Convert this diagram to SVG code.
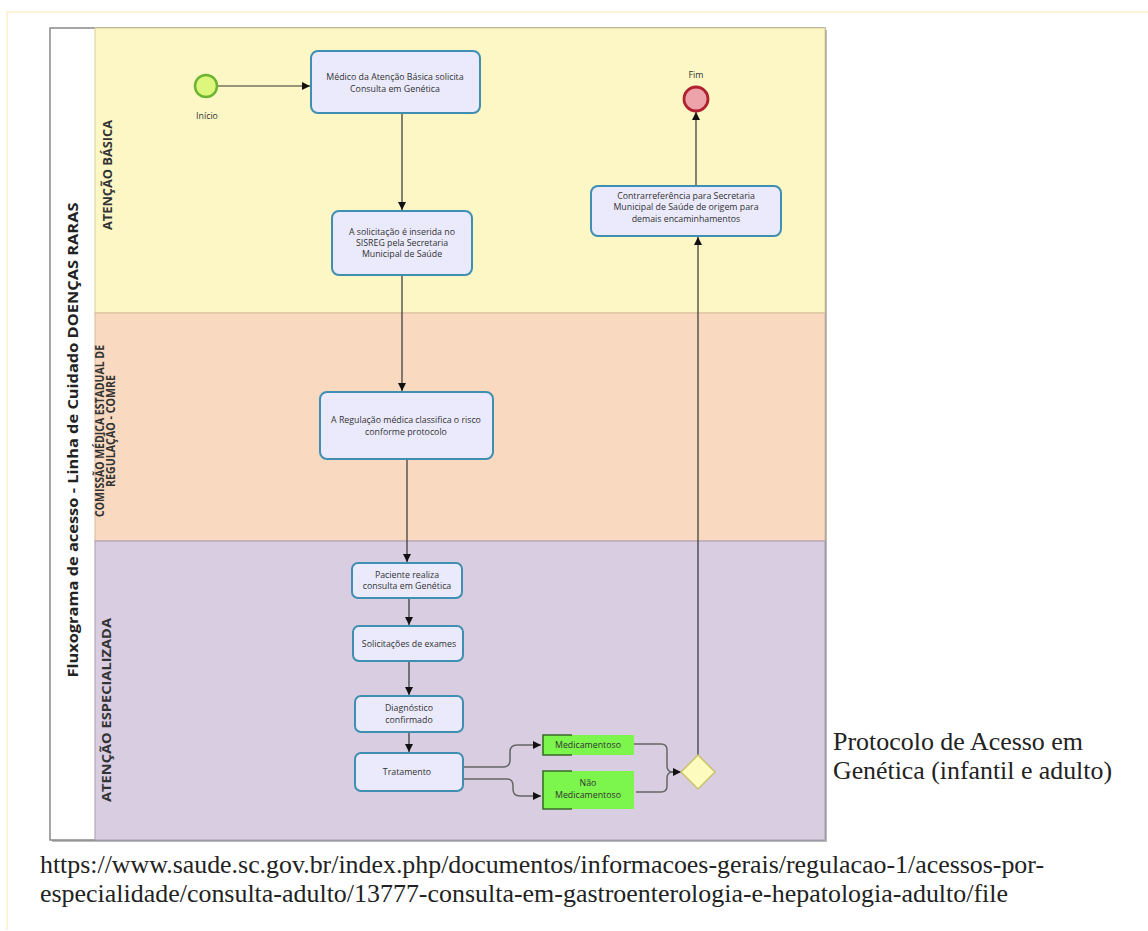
<svg xmlns="http://www.w3.org/2000/svg" width="1148" height="931" viewBox="0 0 1148 931">
<style>
.t{font-family:"Open Sans","Noto Sans","DejaVu Sans",sans-serif;fill:#333;font-size:8.8px;text-anchor:middle}
.lane{font-family:"Open Sans","Noto Sans","DejaVu Sans",sans-serif;font-weight:bold;fill:#333;font-size:11.5px;text-anchor:middle}
.task{fill:#eaeafc;stroke:#3f8fb3;stroke-width:2}
.c{fill:none;stroke:#333;stroke-width:1.2}
.g{fill:none;stroke:#666;stroke-width:1.5}
.serif{font-family:"Liberation Serif","Times New Roman",Times,serif;fill:#222;font-size:25px}
</style>
<defs>
<marker id="ah" viewBox="0 0 10 10" refX="10" refY="5" markerWidth="8" markerHeight="8" markerUnits="userSpaceOnUse" orient="auto">
<path d="M0,0 L10,5 L0,10 z" fill="#111"/>
</marker>
</defs>
<rect x="0" y="0" width="1148" height="931" fill="#fff"/>
<path d="M7,930 L7,12 L1148,12" fill="none" stroke="#fdf0cc" stroke-width="1.5"/>
<g id="pool">
<rect x="52" y="30" width="775" height="812" fill="#bbb"/>
<rect x="50" y="28" width="775" height="812" fill="#fff" stroke="#888" stroke-width="1.5"/>
<rect x="95" y="28" width="730" height="285" fill="#fdf7c6" stroke="#d8d098" stroke-width="1"/>
<rect x="95" y="313" width="730" height="228" fill="#f9dac0" stroke="#d8b89c" stroke-width="1"/>
<rect x="95" y="541" width="730" height="299" fill="#d8cde1" stroke="#a89cb4" stroke-width="1"/>
<text transform="translate(78,440) rotate(-90)" font-family="Open Sans,Noto Sans,DejaVu Sans,sans-serif" font-weight="bold" font-size="15" fill="#222" text-anchor="middle" textLength="475" lengthAdjust="spacingAndGlyphs">Fluxograma de acesso - Linha de Cuidado DOENÇAS RARAS</text>
<text class="lane" transform="translate(112,175) rotate(-90)" textLength="110" lengthAdjust="spacingAndGlyphs">ATENÇÃO BÁSICA</text>
<text class="lane" font-size="8.5" transform="translate(104,431) rotate(-90)" textLength="172" lengthAdjust="spacingAndGlyphs">COMISSÃO MÉDICA ESTADUAL DE</text>
<text class="lane" font-size="8.5" transform="translate(115,431) rotate(-90)" textLength="112" lengthAdjust="spacingAndGlyphs">REGULAÇÃO - COMRE</text>
<text class="lane" transform="translate(111,710) rotate(-90)" textLength="184" lengthAdjust="spacingAndGlyphs">ATENÇÃO ESPECIALIZADA</text>
</g>
<g id="connectors">
<path class="c" d="M218,86 L310,86" marker-end="url(#ah)"/>
<path class="c" d="M402,114 L402,210" marker-end="url(#ah)"/>
<path class="c" d="M402,276 L402,391" marker-end="url(#ah)"/>
<path class="c" d="M407,460 L407,562" marker-end="url(#ah)"/>
<path class="c" d="M409,599 L409,625" marker-end="url(#ah)"/>
<path class="c" d="M409,662 L409,695" marker-end="url(#ah)"/>
<path class="c" d="M409,733 L409,752" marker-end="url(#ah)"/>
<path class="g" d="M464,767 L503,767 Q510,767 510,760 L510,752 Q510,745 517,745 L541,745" marker-end="url(#ah)"/>
<path class="g" d="M464,779 L507,779 Q513,779 513,786 L513,789 Q513,796 520,796 L541,796" marker-end="url(#ah)"/>
<path class="g" d="M634,744 L661,744 Q667,744 667,750 L667,766 Q667,772 673,772 L681,772" marker-end="url(#ah)"/>
<path class="g" d="M636,792 L661,792 Q667,792 667,786 L667,778 Q667,772 673,772"/>
<path class="c" d="M698,755 L698,237" marker-end="url(#ah)"/>
<path class="c" d="M696,186 L696,112" marker-end="url(#ah)"/>
</g>
<g id="inicio">
<circle cx="206" cy="86" r="11" fill="#dcf77c" stroke="#6cb531" stroke-width="2.5"/>
<text class="t" x="207" y="119" font-size="8">Início</text>
</g>
<g id="fim">
<circle cx="696" cy="99" r="12" fill="#eea2aa" stroke="#b0222f" stroke-width="2.8"/>
<text class="t" x="696" y="78" font-size="8">Fim</text>
</g>
<g id="task1">
<rect class="task" x="311" y="51" width="169" height="62" rx="7"/>
<text class="t" x="395" y="80">Médico da Atenção Básica solicita</text>
<text class="t" x="395" y="92">Consulta em Genética</text>
</g>
<g id="task2">
<rect class="task" x="332" y="211" width="140" height="64" rx="7"/>
<text class="t" x="402" y="235">A solicitação é inserida no</text>
<text class="t" x="402" y="246">SISREG pela Secretaria</text>
<text class="t" x="402" y="257">Municipal de Saúde</text>
</g>
<g id="task3">
<rect class="task" x="320" y="392" width="173" height="67" rx="7"/>
<text class="t" x="406" y="423">A Regulação médica classifica o risco</text>
<text class="t" x="406" y="435">conforme protocolo</text>
</g>
<g id="task4">
<rect class="task" x="352" y="563" width="110" height="35" rx="6"/>
<text class="t" x="407" y="578">Paciente realiza</text>
<text class="t" x="407" y="589">consulta em Genética</text>
</g>
<g id="task5">
<rect class="task" x="353" y="626" width="110" height="35" rx="6"/>
<text class="t" x="409" y="647">Solicitações de exames</text>
</g>
<g id="task6">
<rect class="task" x="355" y="696" width="108" height="36" rx="6"/>
<text class="t" x="409" y="711">Diagnóstico</text>
<text class="t" x="409" y="723">confirmado</text>
</g>
<g id="task7">
<rect class="task" x="355" y="753" width="108" height="38" rx="6"/>
<text class="t" x="407" y="775">Tratamento</text>
</g>
<g id="medicamentoso">
<rect x="542" y="735" width="92" height="20" fill="#7cf54c"/>
<path d="M572,735 L543,735 L543,755 L572,755" fill="none" stroke="#3a6a28" stroke-width="1.5"/>
<text class="t" x="588" y="748" fill="#1a3a10">Medicamentoso</text>
</g>
<g id="nao-medicamentoso">
<rect x="542" y="771" width="92" height="38" fill="#7cf54c"/>
<path d="M572,771 L543,771 L543,809 L572,809" fill="none" stroke="#3a6a28" stroke-width="1.5"/>
<text class="t" x="588" y="786" fill="#1a3a10">Não</text>
<text class="t" x="588" y="798" fill="#1a3a10">Medicamentoso</text>
</g>
<g id="gateway">
<path d="M698,755 L715,772 L698,789 L681,772 Z" fill="#fdfbbe" stroke="#c9c26a" stroke-width="1.5"/>
</g>
<g id="task8">
<rect class="task" x="591" y="186" width="190" height="50" rx="7"/>
<text class="t" x="686" y="199">Contrarreferência para Secretaria</text>
<text class="t" x="686" y="210">Municipal de Saúde de origem para</text>
<text class="t" x="686" y="222">demais encaminhamentos</text>
</g>
<g id="caption">
<text class="serif" x="833" y="750" textLength="250" lengthAdjust="spacingAndGlyphs">Protocolo de Acesso em</text>
<text class="serif" x="833" y="779" textLength="279" lengthAdjust="spacingAndGlyphs">Genética (infantil e adulto)</text>
<text class="serif" x="40" y="873" textLength="1004" lengthAdjust="spacingAndGlyphs">https://www.saude.sc.gov.br/index.php/documentos/informacoes-gerais/regulacao-1/acessos-por-</text>
<text class="serif" x="40" y="902" textLength="968" lengthAdjust="spacingAndGlyphs">especialidade/consulta-adulto/13777-consulta-em-gastroenterologia-e-hepatologia-adulto/file</text>
</g>
</svg>
